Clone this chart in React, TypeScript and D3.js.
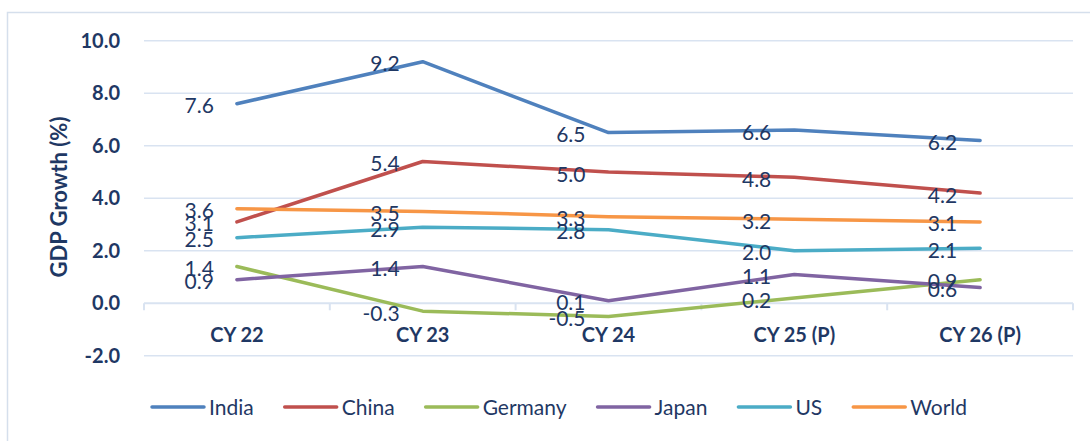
import React, { useEffect, useRef } from "react";
import * as d3 from "d3";

const categories = ["CY 22", "CY 23", "CY 24", "CY 25 (P)", "CY 26 (P)"];
const seriesNames = ["India", "China", "Germany", "Japan", "US", "World"];
const india = [7.6, 9.2, 6.5, 6.6, 6.2];
const china = [3.1, 5.4, 5.0, 4.8, 4.2];
const germany = [1.4, -0.3, -0.5, 0.2, 0.9];
const japan = [0.9, 1.4, 0.1, 1.1, 0.6];
const us = [2.5, 2.9, 2.8, 2.0, 2.1];
const world = [3.6, 3.5, 3.3, 3.2, 3.1];
const seriesColors = ["#4F81BD", "#C0504D", "#9BBB59", "#8064A2", "#4BACC6", "#F79646"];
const yTicks = [-2, 0, 2, 4, 6, 8, 10];
const yTitle = "GDP Growth (%)";

const W = 1090;
const H = 441;
const FONT = "Lato, 'Open Sans', sans-serif";
const TEXT = "#1F3864";
const GRID = "#D9E3F1";

export default function App() {
  const ref = useRef<SVGSVGElement | null>(null);

  useEffect(() => {
    document.body.style.margin = "0";
    const svg = d3.select(ref.current);
    svg.selectAll("*").remove();

    const allSeries = [india, china, germany, japan, us, world];

    const x = d3.scaleBand<string>().domain(categories).range([144, 1073]);
    const cx = (c: string) => (x(c) as number) + x.bandwidth() / 2;
    const y = d3.scaleLinear().domain([-2, 10]).range([355.8, 40.7]);

    // border
    svg.append("rect")
      .attr("x", 7.5).attr("y", 12.5)
      .attr("width", 1200).attr("height", 600)
      .attr("fill", "white")
      .attr("stroke", "#D5DFEC").attr("stroke-width", 1.5);

    // gridlines
    svg.append("g").selectAll("line").data(yTicks.filter(t => t !== 0)).join("line")
      .attr("x1", 144).attr("x2", 1073)
      .attr("y1", d => y(d)).attr("y2", d => y(d))
      .attr("stroke", GRID).attr("stroke-width", 1.5);

    // category axis at 0
    svg.append("line")
      .attr("x1", 144).attr("x2", 1073)
      .attr("y1", y(0)).attr("y2", y(0))
      .attr("stroke", GRID).attr("stroke-width", 2);
    const boundaries = categories.map(c => x(c) as number).concat([1073]);
    svg.append("g").selectAll("line").data(boundaries).join("line")
      .attr("x1", d => d).attr("x2", d => d)
      .attr("y1", y(0)).attr("y2", y(0) + 7)
      .attr("stroke", GRID).attr("stroke-width", 2);

    // y tick labels
    svg.append("g").selectAll("text").data(yTicks).join("text")
      .attr("x", 120).attr("y", d => y(d))
      .attr("dy", "0.36em")
      .attr("text-anchor", "end")
      .attr("font-family", FONT).attr("font-weight", 700).attr("font-size", 20)
      .attr("fill", TEXT)
      .text(d => d.toFixed(1));

    // category labels
    svg.append("g").selectAll("text").data(categories).join("text")
      .attr("x", d => cx(d)).attr("y", 335)
      .attr("dy", "0.36em")
      .attr("text-anchor", "middle")
      .attr("font-family", FONT).attr("font-weight", 700).attr("font-size", 20)
      .attr("fill", TEXT)
      .text(d => d);

    // y title
    svg.append("text")
      .attr("transform", "translate(59,197) rotate(-90)")
      .attr("dy", "0.36em")
      .attr("text-anchor", "middle")
      .attr("font-family", FONT).attr("font-weight", 700).attr("font-size", 22)
      .attr("fill", TEXT)
      .text(yTitle);

    // lines
    const line = d3.line<number>()
      .x((_, i) => cx(categories[i]))
      .y(d => y(d));
    allSeries.forEach((s, i) => {
      svg.append("path")
        .attr("d", line(s) as string)
        .attr("fill", "none")
        .attr("stroke", seriesColors[i])
        .attr("stroke-width", 3.5)
        .attr("stroke-linejoin", "round")
        .attr("stroke-linecap", "round");
    });

    // data labels
    allSeries.forEach((s) => {
      svg.append("g").selectAll("text").data(s).join("text")
        .attr("x", (_, j) => cx(categories[j]) - 23)
        .attr("y", d => y(d) + 2)
        .attr("dy", "0.36em")
        .attr("text-anchor", "end")
        .attr("font-family", FONT).attr("font-size", 21)
        .attr("fill", TEXT)
        .text(d => d.toFixed(1));
    });

    // legend
    const lg = svg.append("g");
    let lx = 152;
    const ly = 407;
    seriesNames.forEach((name, i) => {
      lg.append("line")
        .attr("x1", lx).attr("x2", lx + 52)
        .attr("y1", ly).attr("y2", ly)
        .attr("stroke", seriesColors[i]).attr("stroke-width", 3.5)
        .attr("stroke-linecap", "round");
      const t = lg.append("text")
        .attr("x", lx + 57).attr("y", ly)
        .attr("dy", "0.36em")
        .attr("font-family", FONT).attr("font-size", 21)
        .attr("fill", TEXT)
        .text(name);
      const w = (t.node() as SVGTextElement).getComputedTextLength();
      lx = lx + 57 + w + 31;
    });
  }, []);

  return <svg ref={ref} width={W} height={H} style={{ display: "block" }} />;
}
